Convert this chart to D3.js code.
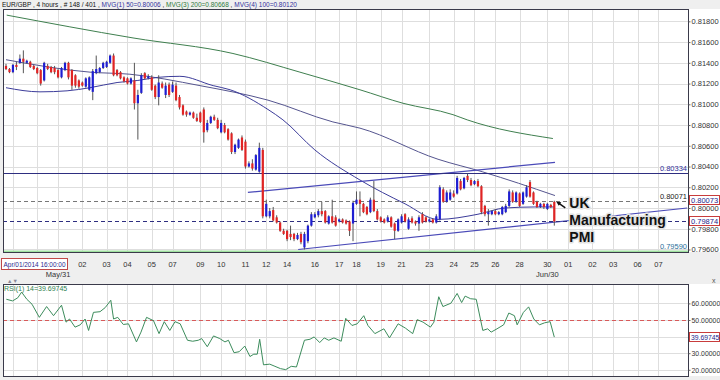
<!DOCTYPE html>
<html>
<head>
<meta charset="utf-8">
<script src="https://cdn.jsdelivr.net/npm/d3@7/dist/d3.min.js"></script>
<style>
  body { margin: 0; background: #efefef; }
  svg { display: block; font-family: "Liberation Sans", Arial, sans-serif; }
</style>
</head>
<body>
<svg id="chart" width="720" height="380"></svg>
<script>
// EUR/GBP 4h candles, [open, high, low, close] in pips (0.0001)
const candles = [
  [8137,8139,8133,8134],[8134,8135,8130,8131],[8131,8139,8130,8138],[8138,8141,8133,8136],
  [8140,8148,8139,8144],[8144,8152,8130,8141],[8140,8143,8139,8142],[8141,8142,8135,8136],
  [8137,8138,8133,8134],[8135,8136,8129,8130],[8133,8134,8118,8120],[8123,8141,8122,8140],
  [8137,8139,8133,8134],[8136,8137,8130,8131],[8135,8137,8129,8131],[8133,8134,8125,8126],
  [8126,8136,8125,8135],[8133,8141,8132,8140],[8140,8141,8124,8126],[8133,8134,8114,8118],
  [8128,8129,8116,8118],[8123,8124,8115,8117],[8121,8122,8117,8118],[8117,8126,8116,8125],
  [8114,8127,8113,8126],[8112,8134,8104,8132],[8130,8147,8129,8134],[8131,8136,8130,8135],
  [8135,8141,8134,8140],[8136,8142,8135,8141],[8140,8148,8139,8147],[8147,8149,8127,8128],
  [8133,8134,8127,8128],[8131,8132,8124,8125],[8126,8127,8121,8122],[8125,8126,8119,8120],
  [8120,8126,8119,8125],[8123,8140,8095,8101],
  [8101,8114,8066,8109],[8111,8130,8110,8128],[8130,8131,8124,8125],[8125,8129,8124,8127],
  [8126,8128,8113,8114],[8118,8119,8105,8107],[8107,8128,8099,8121],[8120,8122,8115,8116],
  [8109,8121,8106,8118],[8119,8121,8107,8109],[8112,8122,8111,8119],[8118,8121,8103,8104],
  [8107,8109,8095,8097],[8099,8100,8089,8090],[8093,8094,8088,8090],[8090,8093,8089,8092],
  [8092,8093,8086,8087],[8087,8091,8083,8084],[8092,8093,8082,8083],[8095,8097,8063,8073],
  [8075,8085,8073,8082],[8082,8089,8081,8088],[8088,8090,8084,8085],[8085,8087,8076,8077],
  [8073,8085,8072,8082],[8080,8082,8072,8073],[8076,8077,8065,8066],[8072,8073,8052,8054],
  [8054,8062,8052,8061],[8058,8067,8057,8066],[8068,8070,8055,8056],[8064,8066,8038,8040],
  [8040,8045,8039,8043],[8043,8047,8036,8038],[8037,8052,8036,8051],[8035,8063,8034,8058],
  [8056,8058,7990,7992],
  [7992,8008,7991,8004],[7992,8000,7990,7997],[7998,8001,7987,7988],[7991,7993,7985,7986],
  [7986,7987,7977,7978],[7978,7980,7974,7975],[7978,7979,7968,7970],[7975,7983,7969,7972],
  [7975,7976,7968,7970],[7970,7976,7969,7974],[7975,7977,7965,7967],[7962,7977,7960,7975],
  [7968,7984,7966,7983],[7983,7996,7982,7994],[7991,7996,7990,7994],[7993,7999,7991,7997],
  [7997,8006,7992,7994],[7997,7998,7985,7986],[7985,7993,7984,7992],[7992,8008,7985,7986],
  [7991,7993,7982,7983],[7987,7990,7986,7989],[7989,7990,7985,7986],[7988,7989,7984,7985],
  [7987,7988,7973,7978],[7985,8007,7968,8005],[8004,8016,8003,8008],[8008,8016,7992,8004],
  [8004,8005,7995,7996],[8001,8002,7993,7994],[7996,8010,7995,8008],[8008,8026,7996,7997],
  [7997,7999,7988,7989],[7991,7992,7986,7987],[7989,7990,7985,7986],[7987,7993,7986,7991],
  [7991,7992,7981,7982],[7985,7986,7970,7978],[7978,7990,7977,7989],[7986,7994,7985,7992],
  [7994,7995,7986,7987],
  [7980,7991,7979,7989],[7990,7992,7985,7986],[7987,7988,7983,7985],[7985,7993,7978,7991],
  [7994,7996,7985,7986],[7991,7992,7986,7987],[7987,7990,7986,7989],[7989,7990,7985,7986],
  [7986,7994,7985,7992],[7989,8022,7988,8020],[8018,8020,8005,8006],[8006,8017,8005,8015],
  [8008,8018,8007,8015],[8014,8017,8010,8011],[8014,8031,8013,8029],[8026,8028,8017,8018],
  [8019,8030,8018,8029],[8031,8033,8025,8027],[8027,8029,8021,8022],[8023,8027,8022,8026],
  [8026,8028,8020,8021],[8021,8022,7994,7996],[8002,8003,7992,7994],[7994,7999,7983,7996],
  [7994,7998,7993,7997],[7997,7999,7993,7994],[7994,7997,7993,7996],[7994,8002,7993,8001],
  [7996,8004,7995,8002],[8002,8018,8001,8016],[8015,8017,8005,8006],[8006,8016,8005,8015],
  [8014,8015,8001,8002],[8004,8016,8003,8015],[8011,8022,8010,8020],[8025,8027,8010,8011],
  [8015,8016,8003,8004],[8006,8007,8000,8001],[8001,8005,8000,8004],[8004,8005,7999,8001],
  [7999,8005,7998,8004],[8003,8004,8000,8001],[8006,8007,7983,7987]
];

// moving averages, [bar, pips]
const mvg50 = [[0,8116],[9.8,8112],[17.6,8113],[24.2,8116],[32,8121],[38,8123],[43.8,8126],
  [50.1,8127],[59.7,8118],[64.6,8114],[75.5,8095],[79.8,8085],[89,8056],[102,8027],[115,8004],
  [124.5,7989],[136,7994],[143.8,8000],[152.4,8001],[158.2,8001]];
const mvg100 = [[0,8143],[24.2,8131],[35.7,8129],[55.9,8118],[75.5,8104],[94.2,8083],[102,8077],
  [124.5,8047],[137.2,8035],[158.2,8012]];
const mvg200 = [[0.2,8186],[36.6,8164],[65.4,8149],[84.7,8131],[102,8114],[114.4,8101],
  [128.8,8090],[132.9,8085],[157.6,8067]];

// drawn trend channel, [bar, pips]
const channelUpper = [[69.7,8015],[158.2,8044]];
const channelLower = [[84.2,7960],[196.3,8000]];

// RSI(14), [bar, value]
const rsi = [[0.1,62.5],[1.9,61.5],[3.4,63.4],[4.5,66.8],[6,62.5],[7.5,59.5],[9.6,51.6],[11.7,58.1],
  [13.7,52.6],[16,58.9],[17.3,48.7],[18.3,50.6],[19.9,45.7],[21.4,47.1],[22.8,50.6],[23.8,43.7],
  [25.2,54.6],[27.1,55],[28.6,57.5],[30.2,61.9],[31,50.6],[32.2,51.6],[33.8,47.3],[35.3,47.7],
  [37.6,36.8],[38.9,42.7],[40.5,51.6],[42.5,49.6],[44.1,41.8],[45.6,49],[47.2,43.7],[48.7,49],
  [50.2,47.7],[52.3,37.8],[53.8,37.2],[55.4,37.8],[56.4,38.8],[58,33.9],[59.8,40.4],[61.6,38.8],
  [63.1,36.8],[64.1,37.8],[65.7,30.3],[67.2,30.9],[68.8,34.3],[70.3,28],[71.4,29.4],[72.4,29.4],
  [73.1,38.4],[74.2,23],[76,23.4],[77.5,22.1],[79.1,20.7],[80.6,20.1],[82.2,22.1],[83.7,21.7],
  [86,37.8],[87.6,38.4],[88.8,39.8],[90.4,36.4],[91.7,39.2],[93,37.8],[94.5,39.2],[96.6,37.2],
  [97.9,51],[99.7,46.7],[101.2,47.7],[103.1,52.6],[104.3,46.7],[106.3,41.8],[108.9,44.7],[110.5,39.2],
  [113,47.7],[115.1,45.1],[117.2,41.8],[118.5,50.2],[120.2,48.7],[122.3,45.7],[123.3,48.7],[124.7,64],
  [125.9,58.1],[128.2,60.1],[130,66],[131.3,60.5],[132.3,64.4],[133.9,62.8],[135.5,62.5],[137.4,43.7],
  [138.8,44.7],[139.8,42.7],[141.5,44.7],[143.4,47.1],[144.9,54.2],[146.5,52.6],[147.3,47.1],[149.1,54.6],
  [150.6,57.9],[152.1,50.6],[153.7,47.1],[155.2,48.3],[156.8,49],[158,39.7]];

// horizontal levels
const levels = [0.80334, 0.80071, 0.79874, 0.79590];
const markerBoxes = [0.80073, 0.79874];
const rsiLast = 39.69745;

// axes
const priceTicks = d3.range(0.796, 0.8181, 0.002);
const rsiTicks = [20, 30, 40, 50, 60];
const dayTickBars = [2, 9, 15, 22, 29, 35, 42, 48, 56, 62, 69, 75, 81, 89, 96, 101, 108, 114,
  122, 129, 135, 141, 148, 156, 162, 169, 175, 182, 188];
const dayTickLabels = ["", "", "", "02", "03", "04", "05", "07", "09", "10", "11", "12", "14", "16",
  "17", "18", "19", "21", "23", "24", "25", "26", "28", "30", "01", "02", "03", "06", "07"];
const monthLabels = [[15, "May/31"], [156, "Jun/30"]];

const P = v => v / 10000;

const W = 720, H = 380;
const main = {left: 3, right: 688, top: 9, bottom: 252};
const low = {top: 284, bottom: 376};

const svg = d3.select("#chart");

const x = d3.scaleLinear().domain([0, 158]).range([6, 554.3]);
const y = d3.scaleLinear().domain([0.80, 0.81]).range([208, 104.3]);
const ry = d3.scaleLinear().domain([20, 60]).range([369.8, 303.4]);

// backgrounds
svg.append("rect").attr("width", W).attr("height", H).attr("fill", "#efefef");
svg.append("rect").attr("x", main.right).attr("y", main.top).attr("width", W - main.right).attr("height", main.bottom - main.top).attr("fill", "#fff");
svg.append("rect").attr("x", main.right).attr("y", low.top).attr("width", W - main.right).attr("height", low.bottom - low.top).attr("fill", "#fff");
svg.append("rect").attr("x", main.left).attr("y", main.top).attr("width", main.right - main.left).attr("height", main.bottom - main.top).attr("fill", "#fff");
svg.append("rect").attr("x", main.left).attr("y", low.top).attr("width", main.right - main.left).attr("height", low.bottom - low.top).attr("fill", "#fff");

const defs = svg.append("defs");
defs.append("clipPath").attr("id", "clipMain").append("rect")
  .attr("x", main.left).attr("y", main.top).attr("width", main.right - main.left).attr("height", main.bottom - main.top);
defs.append("clipPath").attr("id", "clipLow").append("rect")
  .attr("x", main.left).attr("y", low.top).attr("width", main.right - main.left).attr("height", low.bottom - low.top);

// grid
const grid = svg.append("g").attr("stroke", "#dedede").attr("stroke-width", 1);
grid.selectAll("line.vm").data(dayTickBars).join("line")
  .attr("x1", d => Math.round(x(d)) + 0.5).attr("x2", d => Math.round(x(d)) + 0.5)
  .attr("y1", main.top).attr("y2", main.bottom);
grid.selectAll("line.vl").data(dayTickBars).join("line")
  .attr("x1", d => Math.round(x(d)) + 0.5).attr("x2", d => Math.round(x(d)) + 0.5)
  .attr("y1", low.top).attr("y2", low.bottom);
grid.selectAll("line.hm").data(priceTicks).join("line")
  .attr("x1", main.left).attr("x2", main.right)
  .attr("y1", d => Math.round(y(d)) + 0.5).attr("y2", d => Math.round(y(d)) + 0.5);
grid.selectAll("line.hl").data(rsiTicks).join("line")
  .attr("x1", main.left).attr("x2", main.right)
  .attr("y1", d => Math.round(ry(d)) + 0.5).attr("y2", d => Math.round(ry(d)) + 0.5);

// main panel content
const plot = svg.append("g").attr("clip-path", "url(#clipMain)");

const maLine = d3.line().x(d => x(d[0])).y(d => y(P(d[1]))).curve(d3.curveMonotoneX);
plot.append("path").attr("d", maLine(mvg200)).attr("fill", "none").attr("stroke", "#3f7f4f").attr("stroke-width", 1);
plot.append("path").attr("d", maLine(mvg100)).attr("fill", "none").attr("stroke", "#55558f").attr("stroke-width", 1);
plot.append("path").attr("d", maLine(mvg50)).attr("fill", "none").attr("stroke", "#3c3c9a").attr("stroke-width", 1);

const straight = d3.line().x(d => x(d[0])).y(d => y(P(d[1])));
plot.append("path").attr("d", straight(channelUpper)).attr("fill", "none").attr("stroke", "#4a4ab8").attr("stroke-width", 1.2);
plot.append("path").attr("d", straight(channelLower)).attr("fill", "none").attr("stroke", "#4a4ab8").attr("stroke-width", 1.2);

// horizontal levels
const levelStyle = [
  {stroke: "#2e2e80", dash: null, w: 1},
  {stroke: "#777", dash: "4,3", w: 1},
  {stroke: "#2e2e80", dash: "4,3", w: 1},
  {stroke: "#9fe09f", dash: null, w: 2}
];
plot.selectAll("line.level").data(levels).join("line")
  .attr("x1", main.left).attr("x2", main.right)
  .attr("y1", d => Math.round(y(d)) + 0.5).attr("y2", d => Math.round(y(d)) + 0.5)
  .attr("stroke", (d, i) => levelStyle[i].stroke)
  .attr("stroke-width", (d, i) => levelStyle[i].w)
  .attr("stroke-dasharray", (d, i) => levelStyle[i].dash);

const levelLabels = [[0, "#2e2e9a"], [1, "#222"], [3, "#2a6f9a"]];
plot.selectAll("text.lvl").data(levelLabels).join("text")
  .attr("x", main.right - 1).attr("y", d => Math.round(y(levels[d[0]])) - 2)
  .attr("text-anchor", "end").attr("font-size", 7.5).attr("fill", d => d[1])
  .text(d => levels[d[0]].toFixed(5));

// candles
const cg = plot.append("g");
cg.selectAll("line.wick").data(candles).join("line")
  .attr("x1", (d, i) => x(i)).attr("x2", (d, i) => x(i))
  .attr("y1", d => y(P(d[1]))).attr("y2", d => y(P(d[2])))
  .attr("stroke", "#555").attr("stroke-width", 1);
cg.selectAll("rect.body").data(candles).join("rect")
  .attr("x", (d, i) => x(i) - 1.1).attr("width", 2.2)
  .attr("y", d => y(P(Math.max(d[0], d[3]))))
  .attr("height", d => Math.max(1, Math.abs(y(P(d[0])) - y(P(d[3])))))
  .attr("fill", d => d[3] > d[0] ? "#1e1ed2" : d[3] < d[0] ? "#e02424" : "#888");

// annotation
const last = candles.length - 1;
const ax = x(last), ay = y(P(candles[last][0]));
svg.append("path")
  .attr("d", `M${ax + 11},${ay + 6} L${ax + 4},${ay + 1}`)
  .attr("stroke", "#111").attr("stroke-width", 1.5);
svg.append("path")
  .attr("d", `M${ax + 2},${ay} l5,0.5 l-2.5,3.5 z`)
  .attr("fill", "#111");
const note = svg.append("text")
  .attr("x", ax + 15).attr("y", ay + 6)
  .attr("font-size", 14).attr("font-weight", "bold").attr("fill", "#111")
  .attr("stroke", "#e2e2e2").attr("stroke-width", 3).attr("paint-order", "stroke")
  .attr("stroke-linejoin", "round");
["UK", "Manufacturing", "PMI"].forEach((t, i) => {
  note.append("tspan").attr("x", ax + 15).attr("dy", i === 0 ? 0 : 17).text(t);
});

// RSI panel
const lowG = svg.append("g").attr("clip-path", "url(#clipLow)");
lowG.append("line").attr("x1", main.left).attr("x2", main.right)
  .attr("y1", Math.round(ry(50)) + 0.5).attr("y2", Math.round(ry(50)) + 0.5)
  .attr("stroke", "#d85a5a").attr("stroke-width", 1.2).attr("stroke-dasharray", "4,3");
lowG.append("path")
  .attr("d", d3.line().x(d => x(d[0])).y(d => ry(d[1]))(rsi))
  .attr("fill", "none").attr("stroke", "#3c8c5c").attr("stroke-width", 1);
svg.append("text").attr("x", 4).attr("y", low.top + 7).attr("font-size", 7)
  .attr("fill", "#2f7f4f").text("RSI(1) 14=" + rsiLast.toFixed(5));

// panel borders
[[main.top, main.bottom], [low.top, low.bottom]].forEach(([t, b]) => {
  svg.append("rect").attr("x", main.left + 0.5).attr("y", t + 0.5)
    .attr("width", main.right - main.left).attr("height", b - t)
    .attr("fill", "none").attr("stroke", "#3a3a4a").attr("stroke-width", 1);
});

// right axes
const axisFont = "Liberation Sans, Arial, sans-serif";
const priceAxis = svg.append("g").attr("transform", `translate(${main.right + 0.5},0)`)
  .call(d3.axisRight(y).tickValues(priceTicks).tickFormat(d3.format(".5f")).tickSize(2).tickPadding(1));
priceAxis.select(".domain").remove();
priceAxis.selectAll("text").attr("font-size", 7.5).attr("fill", "#333").attr("font-family", axisFont);
priceAxis.selectAll("line").attr("stroke", "#666");

const rsiAxis = svg.append("g").attr("transform", `translate(${main.right + 0.5},0)`)
  .call(d3.axisRight(ry).tickValues(rsiTicks.filter(v => v !== 40)).tickFormat(d3.format(".5f")).tickSize(2).tickPadding(1));
rsiAxis.select(".domain").remove();
rsiAxis.selectAll("text").attr("font-size", 6.9).attr("fill", "#333").attr("font-family", axisFont);
rsiAxis.selectAll("line").attr("stroke", "#666");

function valueBox(yy, label, fs) {
  svg.append("rect").attr("x", main.right + 1.5).attr("y", Math.round(yy) - 4.5)
    .attr("width", 30).attr("height", 9).attr("fill", "#fff").attr("stroke", "#c83c3c");
  svg.append("text").attr("x", main.right + 3).attr("y", Math.round(yy) + 2.8)
    .attr("font-size", fs).attr("fill", "#24248c").text(label);
}
markerBoxes.forEach(v => valueBox(y(v), v.toFixed(5), 7.5));
valueBox(ry(rsiLast), rsiLast.toFixed(5), 6.8);

// date axis
const dates = svg.append("g").attr("font-size", 7.5).attr("fill", "#333").attr("text-anchor", "middle");
dates.selectAll("text.day").data(dayTickBars).join("text")
  .attr("x", d => x(d)).attr("y", main.bottom + 15)
  .text((d, i) => dayTickLabels[i]);
dates.selectAll("text.mon").data(monthLabels).join("text")
  .attr("x", d => x(d[0])).attr("y", main.bottom + 25)
  .text(d => d[1]);

svg.append("rect").attr("x", 1.5).attr("y", 258.5).attr("width", 66).attr("height", 11)
  .attr("fill", "#fff").attr("stroke", "#c04848");
svg.append("text").attr("x", 3.5).attr("y", 267).attr("font-size", 7.5).attr("fill", "#2a2a90")
  .attr("textLength", 62).attr("lengthAdjust", "spacingAndGlyphs")
  .text("Apr/01/2014 16:00:00");

svg.append("text").attr("x", 7).attr("y", 283).attr("font-size", 5.5).attr("fill", "#8a8a9a").text("\u25B2\u25BC");
svg.append("text").attr("x", 712).attr("y", 283).attr("font-size", 7).attr("fill", "#555").text("x");

// title
const title = svg.append("text").attr("x", 2).attr("y", 7).attr("font-size", 6.5);
[["EUR/GBP , 4 hours , # 148 / 401 , ", "#111"], ["MVG(1) 50=0.80006", "#3333a0"], [" , ", "#111"],
 ["MVG(3) 200=0.80668", "#2e7a3e"], [" , ", "#111"], ["MVG(4) 100=0.80120", "#3333a0"]]
  .forEach(([t, c]) => title.append("tspan").attr("fill", c).text(t));
</script>
</body>
</html>
